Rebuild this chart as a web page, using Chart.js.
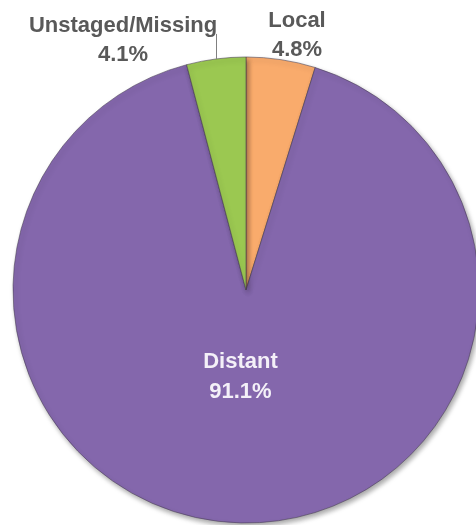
<!DOCTYPE html>
<html>
<head>
<meta charset="utf-8">
<script src="https://cdn.jsdelivr.net/npm/chart.js@4"></script>
<style>
  html, body { margin: 0; padding: 0; background: #fff; }
  #wrap { width: 476px; height: 525px; }
</style>
</head>
<body>
<div id="wrap"><canvas id="chart" width="476" height="525"></canvas></div>
<script>
// stage at diagnosis
const stages = ["Local", "Distant", "Unstaged/Missing"];
const percents = [4.8, 91.1, 4.1];
const sliceColors = ["#F9AB6C", "#8467AC", "#9BC851"];

// label placement per slice: where to anchor (outer edge or centroid) and nudge
const labelPlace = [
    { at: "outer", dx: 16, dy: -33, color: "#595959", leader: false },
    { at: "centroid", dx: -3, dy: -38, color: "#F4F0F8", leader: false },
    { at: "outer", dx: -93, dy: -27, color: "#595959", leader: true },
];

const labelFont = "bold 22px 'Liberation Sans', Arial, sans-serif";
const lineGap = 29.5;

const sliceLabels = {
    id: "sliceLabels",
    afterDatasetsDraw(chart) {
        const ctx = chart.ctx;
        const meta = chart.getDatasetMeta(0);
        meta.data.forEach((arc, i) => {
            const p = arc.getProps(["x", "y", "startAngle", "endAngle", "outerRadius"], true);
            const mid = (p.startAngle + p.endAngle) / 2;
            const place = labelPlace[i];
            let ax, ay;
            if (place.at === "outer") {
                ax = p.x + p.outerRadius * Math.cos(mid);
                ay = p.y + p.outerRadius * Math.sin(mid);
            } else {
                const c = arc.tooltipPosition(true);
                ax = c.x;
                ay = c.y;
            }
            const tx = ax + place.dx;
            const ty = ay + place.dy;

            ctx.save();
            if (place.leader) {
                ctx.strokeStyle = "#808080";
                ctx.lineWidth = 1;
                ctx.beginPath();
                ctx.moveTo(Math.round(ax) + 0.5, ay);
                ctx.lineTo(Math.round(ax) + 0.5, ty + 2);
                ctx.stroke();
            }
            ctx.font = labelFont;
            ctx.fillStyle = place.color;
            ctx.textAlign = "center";
            ctx.textBaseline = "alphabetic";
            ctx.fillText(stages[i], tx, ty);
            ctx.fillText(percents[i].toFixed(1) + "%", tx, ty + lineGap);
            ctx.restore();
        });
    }
};

const pieShadow = {
    id: "pieShadow",
    beforeDatasetsDraw(chart) {
        const ctx = chart.ctx;
        ctx.save();
        ctx.shadowColor = "rgba(0,0,0,0.35)";
        ctx.shadowBlur = 5;
        ctx.shadowOffsetX = 2;
        ctx.shadowOffsetY = 3;
    },
    afterDatasetsDraw(chart) {
        chart.ctx.restore();
    }
};

new Chart(document.getElementById("chart").getContext("2d"), {
    type: "pie",
    data: {
        labels: stages,
        datasets: [
            {
                data: percents,
                backgroundColor: sliceColors,
                borderColor: "rgba(70,60,80,0.55)",
                borderWidth: 1,
                radius: 233,
            },
        ],
    },
    options: {
        responsive: false,
        animation: false,
        layout: {
            padding: { left: 16, right: 0, top: 55, bottom: 0 },
        },
        plugins: {
            legend: { display: false },
            tooltip: { enabled: false },
        },
    },
    plugins: [pieShadow, sliceLabels],
});
</script>
</body>
</html>
